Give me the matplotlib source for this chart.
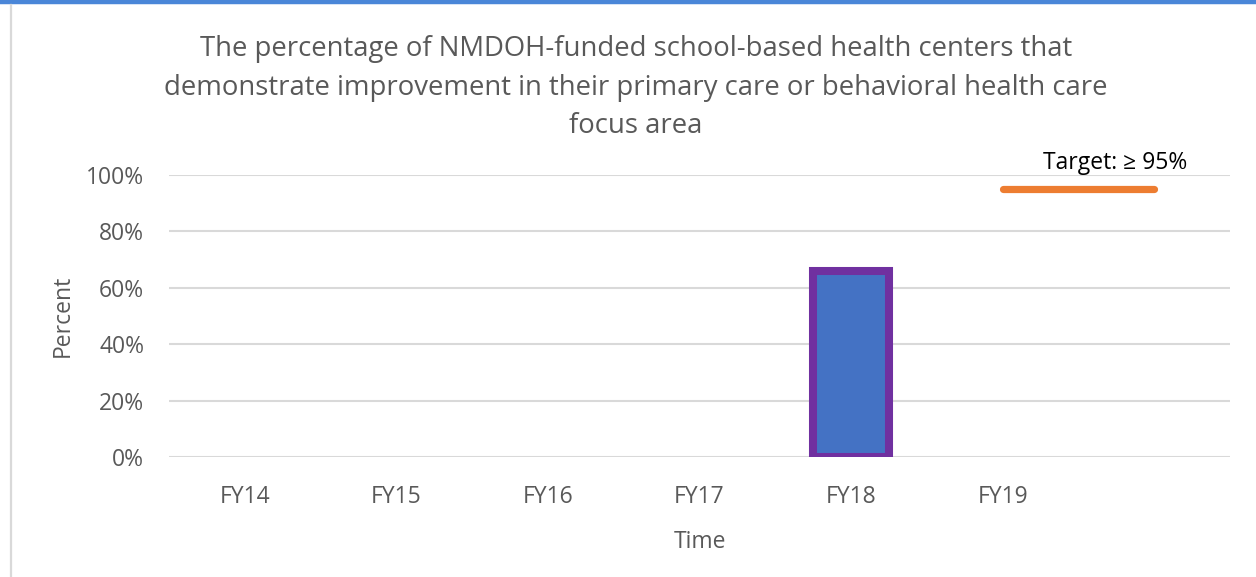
import numpy as np
import matplotlib
matplotlib.use('Agg')
from matplotlib import pyplot as plt
from matplotlib.lines import Line2D

# data
categories = ['FY14', 'FY15', 'FY16', 'FY17', 'FY18', 'FY19', '']
values = [np.nan, np.nan, np.nan, np.nan, 0.66, np.nan, np.nan]
target = [np.nan, np.nan, np.nan, np.nan, np.nan, 0.95, 0.95]
yticks = [0, 0.2, 0.4, 0.6, 0.8, 1.0]
ytick_labels = ['0%', '20%', '40%', '60%', '80%', '100%']

title = ('The percentage of NMDOH-funded school-based health centers that\n'
         'demonstrate improvement in their primary care or behavioral health care\n'
         'focus area')

plt.rcParams['font.family'] = ['Open Sans', 'DejaVu Sans']
grey = '#595959'

fig = plt.figure(figsize=(12.56, 5.77), dpi=100)
ax = fig.add_axes([0.1346, 0.2080, 0.8447, 0.4887])

x = np.arange(len(categories))
ax.bar(x, values, width=0.5, color='#4472C4', edgecolor='#7030A0',
       linewidth=5.8, zorder=3)
ax.plot(x, target, color='#ED7D31', linewidth=5.2, solid_capstyle='round',
        zorder=4)
ax.text(5.74, 1.042, 'Target: \u2265 95%', fontsize=16.5, color='black',
        ha='center', va='center', family=['Open Sans', 'DejaVu Sans'])

ax.set_xlim(-0.5, 6.5)
ax.set_ylim(0, 1.0)
ax.set_yticks(yticks)
ax.set_yticklabels(ytick_labels)
ax.set_xticks(x[:6])
ax.set_xticklabels(categories[:6])
ax.tick_params(length=0, labelsize=16.5, labelcolor=grey)
ax.tick_params(axis='y', pad=18)
ax.tick_params(axis='x', pad=20)
ax.grid(axis='y', color='#d9d9d9', linewidth=1.5, zorder=0)
ax.set_axisbelow(True)
for s in ax.spines.values():
    s.set_visible(False)

ax.set_xlabel('Time', fontsize=16.5, color=grey, labelpad=15)
ax.set_ylabel('Percent', fontsize=16.5, color=grey, labelpad=8)

fig.text(0.5064, 0.848, title, fontsize=19.8, color=grey, ha='center',
         va='center', linespacing=1.5)

# chart frame
fig.add_artist(Line2D([0, 1], [0.9965, 0.9965], transform=fig.transFigure,
                      color='#4A86D8', linewidth=3.2))
fig.add_artist(Line2D([0.0088, 0.0088], [0, 0.992], transform=fig.transFigure,
                      color='#d9d9d9', linewidth=1.6))

fig.savefig('out.png', dpi=100)
